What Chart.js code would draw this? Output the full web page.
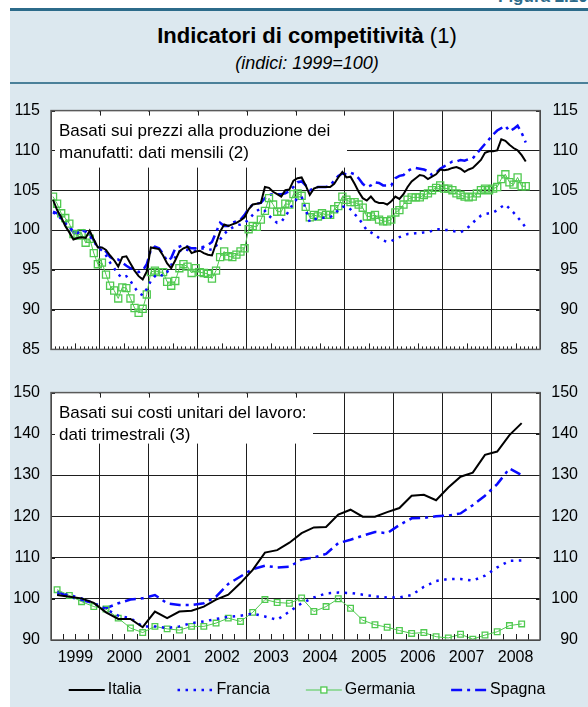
<!DOCTYPE html>
<html>
<head>
<meta charset="utf-8">
<script src="https://cdn.jsdelivr.net/npm/chart.js@4.4.1/dist/chart.umd.min.js"></script>
<style>
	body { margin: 0; background: #fff; font-family: "Liberation Sans", Arial, sans-serif; }
	#fig { position: relative; width: 588px; height: 707px; overflow: hidden; background: #fff; }
	#panel { position: absolute; left: 10px; top: 8px; width: 600px; height: 699px; background: #dce8ef; border-top: 3px solid #2c6b8a; box-sizing: border-box; }
	#rule { position: absolute; left: 10px; top: 82px; width: 600px; height: 2px; background: #4a8099; }
	#figlabel { position: absolute; left: 498px; top: -13px; font-size: 17px; font-weight: bold; color: #2c6b8a; }
	#title { position: absolute; left: 10px; width: 594px; top: 23px; text-align: center; font-size: 22px; line-height: 26px; }
	#subtitle { position: absolute; left: 10px; width: 594px; top: 52px; text-align: center; font-size: 18px; line-height: 22px; font-style: italic; }
	.wrap { position: absolute; left: 0; width: 588px; }
	#wrapTop { top: 90px; height: 280px; }
	#wrapBottom { top: 372px; height: 335px; }
</style>
</head>
<body>
<div id="fig">
	<div id="panel"></div>
	<div id="figlabel">Figura 2.10</div>
	<div id="rule"></div>
	<div id="title"><b>Indicatori di competitività</b> (1)</div>
	<div id="subtitle">(indici: 1999=100)</div>
	<div class="wrap" id="wrapTop"><canvas id="chartTop" width="588" height="280"></canvas></div>
	<div class="wrap" id="wrapBottom"><canvas id="chartBottom" width="588" height="335"></canvas></div>
</div>
<script>
// year labels on the x axis
var years = ['1999', '2000', '2001', '2002', '2003', '2004', '2005', '2006', '2007', '2008'];
var seriesNames = ['Italia', 'Francia', 'Germania', 'Spagna'];

// monthly, Jan 1999 - Sep 2008 (producer prices)
var italiaM = [
	103.8, 102.5, 101.6, 100.5, 99.7, 98.8, 99.0, 99.1, 99.0, 99.9, 98.8, 97.8,
	97.8, 97.5, 96.8, 96.2, 95.4, 96.6, 96.7, 95.8, 94.9, 94.2, 93.8, 94.8,
	97.8, 97.7, 97.6, 96.8, 95.8, 95.2, 96.2, 97.3, 97.7, 97.9, 97.1, 97.3,
	97.4, 97.1, 96.9, 96.8, 98.3, 99.8, 100.7, 100.5, 100.7, 100.9, 101.2, 101.6,
	102.6, 103.2, 103.3, 103.4, 105.4, 105.3, 104.8, 104.5, 104.2, 105.0, 105.1, 106.2,
	106.5, 106.6, 105.6, 104.4, 105.2, 105.4, 105.4, 105.4, 105.4, 105.8, 106.6, 107.3,
	106.6, 106.7, 105.8, 104.8, 104.0, 103.7, 104.2, 103.6, 103.4, 103.4, 103.2, 103.6,
	104.2, 103.9, 104.5, 105.4, 106.1, 106.5, 106.9, 106.8, 106.4, 106.7, 107.0, 107.6,
	107.5, 107.6, 107.8, 107.9, 107.7, 107.3, 107.6, 107.8, 108.3, 108.8, 109.7, 109.9,
	109.9, 110.0, 111.4, 111.2, 110.7, 110.3, 110.0, 109.4, 108.6
];
var franciaM = [
	102.2, 101.9, 101.4, 100.8, 100.3, 99.8, 99.6, 99.9, 99.8, 99.3, 98.5, 97.9,
	97.4, 96.8, 95.9, 95.2, 94.4, 94.0, 94.2, 93.6, 92.8, 92.1, 91.8, 92.6,
	93.6, 94.2, 94.5, 94.2, 94.7, 95.6, 96.6, 97.3, 97.6, 97.5, 97.3, 97.4,
	97.6, 97.7, 97.6, 97.5, 98.0, 98.8, 99.5, 100.0, 100.3, 100.6, 100.7, 100.9,
	101.3, 101.9, 102.4, 102.7, 102.4, 101.8, 101.3, 100.9, 101.0, 101.7, 102.5, 103.4,
	104.0, 104.2, 102.6, 101.0, 101.3, 101.5, 101.5, 101.6, 101.6, 102.0, 102.5, 102.9,
	103.0, 102.6, 102.0, 101.5, 100.7, 100.0, 99.7, 99.4, 99.0, 98.7, 98.5, 98.6,
	98.9, 99.1, 99.3, 99.5, 99.5, 99.6, 99.6, 99.7, 99.7, 99.9, 100.1, 100.1,
	100.0, 100.0, 99.9, 99.8, 99.7, 100.0, 100.4, 100.9, 101.4, 101.8, 102.0, 102.1,
	102.2, 102.5, 102.9, 103.2, 102.7, 102.2, 101.6, 101.0, 100.3
];
var germaniaM = [
	104.2, 103.3, 102.1, 101.5, 100.8, 99.5, 99.3, 99.6, 98.4, 98.9, 97.1, 95.7,
	95.9, 94.4, 93.0, 92.4, 91.4, 92.8, 92.7, 91.4, 90.2, 89.6, 90.1, 91.9,
	94.7, 94.9, 94.7, 94.7, 93.5, 93.0, 93.6, 95.2, 95.7, 95.4, 94.6, 95.2,
	94.7, 94.6, 94.5, 93.9, 94.9, 96.6, 97.3, 96.7, 96.6, 96.9, 97.3, 97.7,
	100.1, 100.5, 100.4, 101.3, 102.4, 104.0, 103.2, 102.3, 102.3, 103.3, 103.2, 104.5,
	104.6, 104.3, 102.9, 101.6, 101.9, 101.7, 102.1, 101.9, 101.9, 102.6, 103.0, 104.2,
	103.8, 103.5, 103.5, 103.2, 102.8, 101.7, 101.7, 101.9, 101.3, 101.1, 101.1, 101.3,
	102.2, 102.5, 103.2, 103.8, 104.1, 104.1, 104.1, 104.4, 104.6, 105.0, 105.3, 105.6,
	105.2, 105.2, 105.0, 104.6, 104.4, 104.2, 104.1, 104.2, 104.6, 105.0, 105.2, 105.0,
	105.2, 105.4, 106.4, 107.0, 106.0, 105.7, 106.6, 105.5, 105.5
];
var spagnaM = [
	102.3, 102.1, 101.7, 100.9, 100.5, 99.7, 99.7, 100.1, 99.7, 99.5, 98.7, 97.9,
	97.7, 97.3, 96.6, 96.3, 96.3, 95.9, 95.5, 95.2, 95.1, 94.7, 94.9, 95.7,
	97.5, 97.9, 97.7, 97.0, 96.1, 96.5, 97.7, 97.9, 98.1, 97.9, 97.7, 97.7,
	97.8, 97.9, 98.1, 98.5, 99.7, 100.9, 100.5, 100.5, 100.9, 101.1, 101.3, 101.9,
	102.7, 103.2, 103.3, 103.4, 104.0, 104.4, 104.5, 104.5, 104.5, 104.6, 104.9, 105.4,
	106.0, 106.1, 105.6, 105.0, 105.2, 105.4, 105.4, 105.4, 105.6, 106.2, 106.8, 107.1,
	107.0, 107.2, 107.0, 106.5, 105.8, 105.4, 105.6, 106.0, 105.9, 105.6, 105.6, 105.6,
	106.5, 106.8, 106.9, 107.4, 107.7, 107.8, 107.7, 107.6, 107.4, 106.9, 107.2, 107.7,
	108.0, 108.3, 108.6, 108.6, 108.8, 108.7, 108.9, 109.0, 109.6, 110.2, 110.8, 111.4,
	112.0, 112.5, 112.8, 113.1, 112.4, 112.7, 113.1, 112.2, 111.0
];

// quarterly, Q1 1999 - Q3 2008 (unit labour costs)
var italiaQ = [
	100.9, 100.5, 100.1, 99.0, 96.7, 95.1, 95.1, 93.1, 96.9, 95.3,
	96.9, 97.1, 98.1, 99.8, 101.0, 103.8, 107.0, 111.2, 111.8, 113.6,
	115.9, 117.3, 117.4, 120.4, 121.6, 119.9, 119.9, 121.0, 122.0, 125.0,
	125.2, 123.9, 127.0, 129.6, 130.6, 134.9, 135.7, 139.7, 142.6
];
var franciaQ = [
	101.3, 100.9, 100.1, 98.9, 97.5, 95.9, 95.3, 93.3, 93.3, 92.9,
	93.3, 94.1, 94.5, 95.1, 95.6, 95.9, 96.4, 95.7, 94.9, 96.9,
	98.9, 100.3, 101.3, 101.5, 101.4, 101.0, 100.6, 100.3, 100.3, 100.9,
	102.9, 104.3, 104.8, 104.8, 104.4, 105.6, 107.6, 109.2, 109.3
];
var germaniaQ = [
	102.2, 100.8, 99.3, 98.1, 97.5, 95.3, 92.9, 91.8, 93.3, 92.7,
	92.4, 93.3, 93.3, 94.1, 95.3, 94.5, 96.7, 99.8, 99.1, 98.9,
	100.2, 96.9, 98.1, 100.0, 97.7, 94.8, 93.7, 93.1, 92.3, 91.6,
	91.8, 90.8, 90.5, 91.4, 90.2, 91.2, 92.0, 93.5, 93.9
];
var spagnaQ = [
	101.7, 100.5, 99.7, 98.9, 97.7, 98.9, 99.8, 100.1, 100.9, 98.9,
	98.5, 98.5, 98.9, 100.5, 103.6, 105.4, 107.2, 108.0, 107.6, 107.8,
	109.5, 110.0, 110.9, 113.5, 114.3, 115.3, 116.2, 115.9, 117.9, 119.5,
	119.6, 120.0, 120.2, 120.7, 122.7, 125.0, 127.8, 131.6, 130.0
];

var noteTop = ['Basati sui prezzi alla produzione dei', 'manufatti: dati mensili (2)'];
var noteBottom = ['Basati sui costi unitari del lavoro:', 'dati trimestrali (3)'];

var FONT = '"Liberation Sans", Arial, sans-serif';
var BLUE = '#0a0aff';
var GREEN = '#4fc94f';
var GRID = '#1e1e1e';
var FRAME = '#5a5a5a';

Chart.defaults.font.family = FONT;
Chart.defaults.font.size = 16;
Chart.defaults.color = '#000';

function monthly(values) {
	return values.map(function (v, i) {
		return { x: i + 0.5, y: v };
	});
}

function quarterly(values) {
	return values.map(function (v, i) {
		return { x: i * 3 + 1.5, y: v };
	});
}

function styles(squareRadius) {
	return [
		{ borderColor: '#000', borderWidth: 2, pointRadius: 0 },
		{ borderColor: BLUE, borderWidth: 2.5, borderDash: [2.5, 5.5], pointRadius: 0 },
		{
			borderColor: GREEN, borderWidth: 1, pointStyle: 'rect', pointRadius: squareRadius,
			pointBorderWidth: 1.3, pointBorderColor: GREEN, pointBackgroundColor: 'rgba(255,255,255,0)'
		},
		{ borderColor: BLUE, borderWidth: 2.5, borderDash: [11, 5, 3, 5], pointRadius: 0 },
	];
}

function buildDatasets(series, squareRadius) {
	var st = styles(squareRadius);
	return series.map(function (data, i) {
		var ds = {
			label: seriesNames[i],
			data: data,
			tension: 0,
			fill: false,
			pointHoverRadius: 0,
		};
		Object.keys(st[i]).forEach(function (k) {
			ds[k] = st[i][k];
		});
		return ds;
	});
}

// white plot, note box, frame, inner ticks, legend
var panelPlugin = {
	id: 'panel',
	beforeDraw: function (chart) {
		var a = chart.chartArea;
		var ctx = chart.ctx;
		ctx.save();
		ctx.fillStyle = '#fff';
		ctx.fillRect(a.left, a.top, a.right - a.left, a.bottom - a.top);
		ctx.restore();
	},
	beforeDatasetsDraw: function (chart, args, opts) {
		var a = chart.chartArea;
		var ctx = chart.ctx;
		ctx.save();
		ctx.fillStyle = '#fff';
		ctx.fillRect(a.left + 1, a.top + 1, opts.boxWidth, opts.boxHeight);
		ctx.fillStyle = '#000';
		ctx.font = '17px ' + FONT;
		ctx.textBaseline = 'middle';
		opts.note.forEach(function (line, i) {
			ctx.fillText(line, a.left + 8, a.top + 21 + i * 22);
		});
		ctx.restore();
	},
	afterDatasetsDraw: function (chart, args, opts) {
		var a = chart.chartArea;
		var ctx = chart.ctx;
		var x = chart.scales.x;
		var y = chart.scales.y;
		ctx.save();
		ctx.strokeStyle = GRID;
		ctx.lineWidth = 1;
		ctx.beginPath();
		y.ticks.forEach(function (t) {
			var py = Math.round(y.getPixelForValue(t.value)) + 0.5;
			ctx.moveTo(a.left, py);
			ctx.lineTo(a.left + 4, py);
			ctx.moveTo(a.right - 4, py);
			ctx.lineTo(a.right, py);
		});
		for (var yr = 0; yr <= 120; yr += 12) {
			var px = Math.round(x.getPixelForValue(yr)) + 0.5;
			ctx.moveTo(px, a.top);
			ctx.lineTo(px, a.top + 5);
		}
		for (var m = opts.minorStep; m < 120; m += opts.minorStep) {
			var mx = Math.round(x.getPixelForValue(m)) + 0.5;
			var len = m % 12 === 0 ? 0 : (m % 12 === 6 ? opts.midTick : opts.minorTick);
			ctx.moveTo(mx, a.bottom);
			ctx.lineTo(mx, a.bottom - len);
		}
		ctx.stroke();
		ctx.strokeStyle = FRAME;
		ctx.lineWidth = 1.5;
		ctx.strokeRect(a.left, a.top, a.right - a.left, a.bottom - a.top);
		ctx.restore();
	},
	afterDraw: function (chart, args, opts) {
		if (!opts.legend) {
			return;
		}
		var ctx = chart.ctx;
		var ds = chart.data.datasets;
		var lineLen = 36;
		var gap = 36;
		ctx.save();
		ctx.font = '16px ' + FONT;
		ctx.textBaseline = 'middle';
		var widths = ds.map(function (d) {
			return lineLen + 3 + ctx.measureText(d.label).width;
		});
		var total = widths.reduce(function (s, w) { return s + w; }, 0) + gap * (ds.length - 1);
		var lx = opts.legendCenter - total / 2;
		var ly = opts.legendY;
		ds.forEach(function (d, i) {
			ctx.strokeStyle = d.borderColor;
			ctx.lineWidth = d.borderWidth;
			ctx.setLineDash(d.borderDash || []);
			ctx.beginPath();
			ctx.moveTo(lx, ly);
			ctx.lineTo(lx + lineLen, ly);
			ctx.stroke();
			ctx.setLineDash([]);
			if (d.pointStyle === 'rect') {
				ctx.fillStyle = '#fff';
				ctx.lineWidth = 1.3;
				ctx.fillRect(lx + lineLen / 2 - 3, ly - 3, 6, 6);
				ctx.strokeRect(lx + lineLen / 2 - 3, ly - 3, 6, 6);
			}
			ctx.fillStyle = '#000';
			ctx.fillText(d.label, lx + lineLen + 3, ly);
			lx += widths[i] + gap;
		});
		ctx.restore();
	},
};

function buildOptions(cfg) {
	return {
		responsive: false,
		animation: false,
		events: [],
		layout: { padding: { top: cfg.padTop, bottom: cfg.padBottom, left: 0, right: 10 } },
		plugins: {
			legend: { display: false },
			tooltip: { enabled: false },
			panel: cfg.panel,
		},
		scales: {
			x: {
				type: 'linear',
				min: 0,
				max: 120,
				afterBuildTicks: function (scale) {
					var ticks = [];
					for (var v = 0; v <= 120; v += 6) {
						ticks.push({ value: v });
					}
					scale.ticks = ticks;
				},
				afterFit: function (scale) {
					scale.height = cfg.xHeight;
				},
				grid: {
					drawTicks: false,
					color: function (c) {
						return c.tick && c.tick.value % 12 === 0 ? GRID : 'rgba(0,0,0,0)';
					},
					lineWidth: 1,
				},
				border: { display: false },
				ticks: {
					display: cfg.showYears,
					autoSkip: false,
					maxRotation: 0,
					padding: 8,
					callback: function (value) {
						return value % 12 === 6 ? years[(value - 6) / 12] : '';
					},
				},
			},
			y: {
				position: 'left',
				min: cfg.yMin,
				max: cfg.yMax,
				afterFit: function (scale) {
					scale.width = 51;
				},
				grid: { drawTicks: false, color: GRID, lineWidth: 1 },
				border: { display: false },
				ticks: { stepSize: cfg.yStep, padding: 11 },
			},
			y2: {
				position: 'right',
				min: cfg.yMin,
				max: cfg.yMax,
				afterFit: function (scale) {
					scale.width = 38;
				},
				grid: { display: false, drawTicks: false },
				border: { display: false },
				ticks: { stepSize: cfg.yStep, padding: 11, crossAlign: 'far' },
			},
		},
	};
}

new Chart(document.getElementById('chartTop'), {
	type: 'line',
	data: {
		datasets: buildDatasets([monthly(italiaM), monthly(franciaM), monthly(germaniaM), monthly(spagnaM)], 5),
	},
	options: buildOptions({
		yMin: 85, yMax: 115, yStep: 5,
		padTop: 18, padBottom: 12, xHeight: 0, showYears: false,
		panel: { note: noteTop, boxWidth: 295, boxHeight: 56, minorStep: 1, minorTick: 3, midTick: 6, legend: false },
	}),
	plugins: [panelPlugin],
});

new Chart(document.getElementById('chartBottom'), {
	type: 'line',
	data: {
		datasets: buildDatasets([quarterly(italiaQ), quarterly(franciaQ), quarterly(germaniaQ), quarterly(spagnaQ)], 4),
	},
	options: buildOptions({
		yMin: 90, yMax: 150, yStep: 10,
		padTop: 16, padBottom: 37, xHeight: 30, showYears: true,
		panel: { note: noteBottom, boxWidth: 261, boxHeight: 50, minorStep: 3, minorTick: 6, midTick: 6, legend: true, legendCenter: 307, legendY: 318 },
	}),
	plugins: [panelPlugin],
});
</script>
</body>
</html>
